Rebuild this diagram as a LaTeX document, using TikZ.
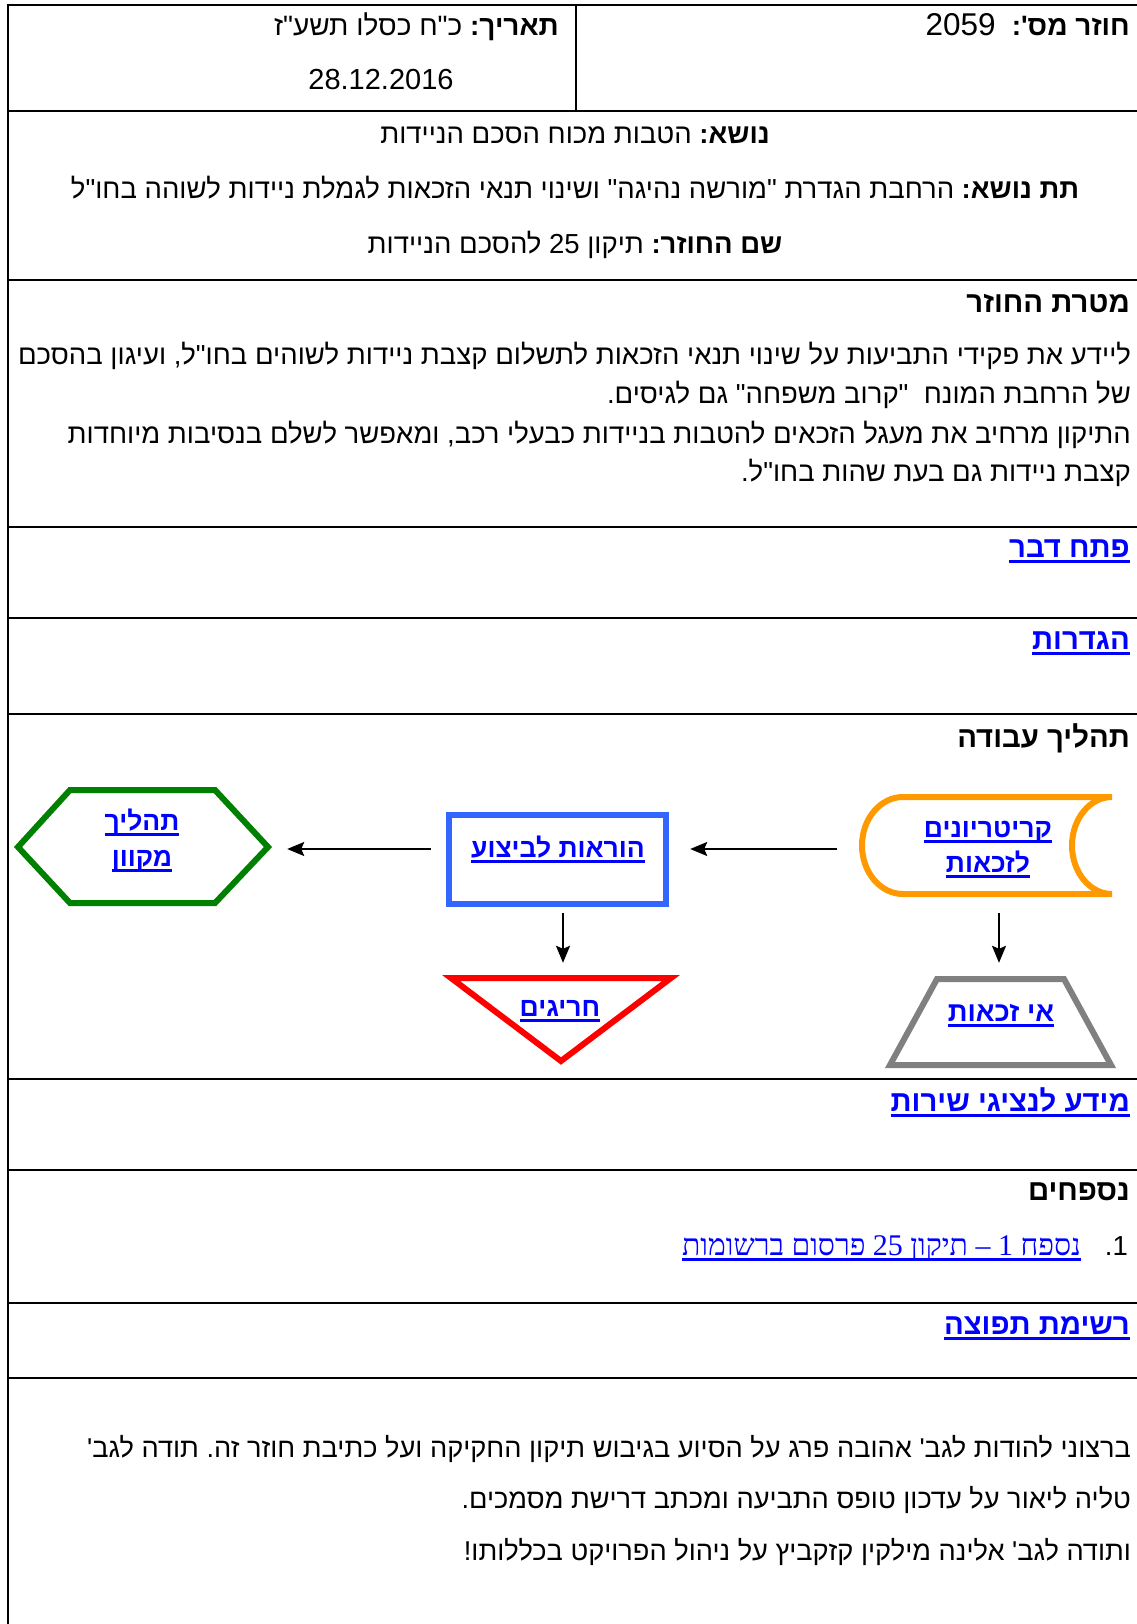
\documentclass[tikz,border=0pt]{standalone}
\usepackage{fontspec}
\setmainfont{Liberation Sans}
\newfontfamily\heb[Script=Hebrew,Ligatures=TeXOff]{Liberation Sans}
\newfontfamily\hebserif[Script=Hebrew,Ligatures=TeXOff]{Liberation Serif}
\TeXXeTstate=1
\frenchspacing
\usetikzlibrary{arrows.meta}
\definecolor{linkblue}{RGB}{0,0,255}
\definecolor{shporange}{RGB}{255,153,0}
\definecolor{shpblue}{RGB}{51,102,255}
\definecolor{shpgreen}{RGB}{0,128,0}
\definecolor{shpred}{RGB}{255,0,0}
\definecolor{shpgray}{RGB}{128,128,128}
\newcommand\RTL[1]{\beginR #1\endR}
\newcommand\LTR[1]{\beginL #1\endL}
\newcommand\ulk[1]{\setbox0\hbox{\beginR #1\endR}\rlap{\vrule height -3pt depth 6pt width \wd0}\box0}
\newcommand\bodyfont{\heb\fontsize{27.5}{33}\selectfont}
\newcommand\headfont{\heb\fontsize{28}{33}\selectfont}
\newcommand\boldhead{\heb\fontsize{29.3}{35}\selectfont\bfseries}
\newcommand\shapefont{\heb\fontsize{26.5}{32}\selectfont\bfseries}
\begin{document}
\begin{tikzpicture}[x=1pt,y=-1pt,
  hrule/.style={line width=2pt},
  thinrule/.style={line width=1.3pt},
  txt/.style={inner sep=0pt, anchor=base east, font=\bodyfont},
  ctr/.style={inner sep=0pt, anchor=base, font=\bodyfont},
  hd/.style={inner sep=0pt, anchor=base east, font=\boldhead},
  lnk/.style={inner sep=0pt, anchor=base east, text=linkblue, font=\boldhead},
  shtxt/.style={inner sep=0pt, anchor=base, text=linkblue, font=\shapefont},
  frame/.style={inner sep=0pt, draw=none},
  arr/.style={line width=2pt, -{Stealth[length=17pt,width=14pt,inset=3pt]}},
  shp/.style={line width=6pt, line join=miter}]
\useasboundingbox (0,0) rectangle (1137,1624);
\fill[white] (0,0) rectangle (1137,1624);
% table
\draw[thinrule] (8,4) -- (8,1624);
\draw[thinrule] (576,5) -- (576,111);
\foreach \yy in {5,111,280,527,618,714,1079,1170,1303,1378}
  \draw[hrule] (7,\yy) -- (1137,\yy);
% row 1
\node[txt,font=\headfont] (num) at (1130,36) {\RTL{\textbf{חוזר מס':}\hspace{16pt}{\fontsize{31.5}{36}\selectfont\LTR{2059}}}};
\node[txt,font=\headfont] (date) at (559,36) {\RTL{\textbf{תאריך:} כ"ח כסלו תשע"ז}};
\node[ctr,font=\heb\fontsize{29}{34}\selectfont] (dateg) at (381,90) {28.12.2016};
% row 2
\node[ctr] (subj) at (575,144) {\RTL{\textbf{נושא:} הטבות מכוח הסכם הניידות}};
\node[ctr] (subsubj) at (575,199) {\RTL{\textbf{תת נושא:} הרחבת הגדרת "מורשה נהיגה" ושינוי תנאי הזכאות לגמלת ניידות לשוהה בחו"ל}};
\node[ctr] (name) at (575,253) {\RTL{\textbf{שם החוזר:} תיקון \LTR{25} להסכם הניידות}};
% row 3
\node[hd] (goalh) at (1130,312) {\RTL{מטרת החוזר}};
\node[txt] (g1) at (1131,364) {\RTL{ליידע את פקידי התביעות על שינוי תנאי הזכאות לתשלום קצבת ניידות לשוהים בחו"ל, ועיגון בהסכם}};
\node[txt] (g2) at (1131,403.5) {\RTL{של הרחבת המונח \ "קרוב משפחה" גם לגיסים.}};
\node[txt] (g3) at (1131,443) {\RTL{התיקון מרחיב את מעגל הזכאים להטבות בניידות כבעלי רכב, ומאפשר לשלם בנסיבות מיוחדות}};
\node[txt] (g4) at (1131,481) {\RTL{קצבת ניידות גם בעת שהות בחו"ל.}};
% rows 4-5
\node[lnk] (intro) at (1130,557) {\ulk{פתח דבר}};
\node[lnk] (defs) at (1130,649) {\ulk{הגדרות}};
% row 6
\node[hd] (proch) at (1130,747) {\RTL{תהליך עבודה}};
\coordinate (rowy) at (0,849);
\coordinate (colA) at (563,0);
\coordinate (colB) at (999,0);
\node[frame, minimum width=250pt, minimum height=97pt] (crit) at (987,845.5) {};
\node[frame, minimum width=217pt, minimum height=89pt] (instr) at (557.5,859.5) {};
\node[frame, minimum width=250pt, minimum height=113pt] (online) at (143,846.5) {};
\node[frame, minimum width=220pt, minimum height=83pt] (exc) at (561,1019.5) {};
\node[frame, minimum width=221pt, minimum height=86pt] (noelig) at (1000.5,1022) {};
% shapes
\draw[shp, shporange] (1112,797) -- (903,797)
  .. controls (880.4,797) and (862,818.7) .. (862,845.5)
  .. controls (862,872.3) and (880.4,894) .. (903,894) -- (1112,894)
  .. controls (1089.9,894) and (1072,872.3) .. (1072,845.5)
  .. controls (1072,818.7) and (1089.9,797) .. (1112,797) -- cycle;
\draw[shp, shpblue] (449,815) rectangle (666,904);
\draw[shp, shpgreen] (18,847) -- (70,790) -- (215,790) -- (268,847) -- (215,903) -- (70,903) -- cycle;
\draw[shp, shpred] (451,978) -- (671,978) -- (561,1061) -- cycle;
\draw[shp, shpgray] (937,979) -- (1064,979) -- (1111,1065) -- (890,1065) -- cycle;
% shape texts
\node[shtxt] (critt1) at (988,837) {\ulk{קריטריונים}};
\node[shtxt] (critt2) at (988,872) {\ulk{לזכאות}};
\node[shtxt] (instrt) at (558,857) {\ulk{הוראות לביצוע}};
\node[shtxt] (onlinet1) at (142,830) {\ulk{תהליך}};
\node[shtxt] (onlinet2) at (142,866) {\ulk{מקוון}};
\node[shtxt] (exct) at (560,1016) {\ulk{חריגים}};
\node[shtxt,font=\heb\fontsize{27.5}{33}\selectfont\bfseries] (noeligt) at (1001,1021) {\ulk{אי זכאות}};
% connectors
\draw[arr, shorten <=25pt, shorten >=24pt] (crit.west |- rowy) -- (instr.east |- rowy);
\draw[arr, shorten <=18pt, shorten >=19pt] (instr.west |- rowy) -- (online.east |- rowy);
\draw[arr, shorten <=9pt, shorten >=15pt] (colA |- instr.south) -- (colA |- exc.north);
\draw[arr, shorten <=19pt, shorten >=16pt] (colB |- crit.south) -- (colB |- noelig.north);
% row 7
\node[lnk] (svc) at (1130,1111) {\ulk{מידע לנציגי שירות}};
% row 8
\node[hd] (apph) at (1130,1200) {\RTL{נספחים}};
\node[txt] (appn) at (1128,1255) {\RTL{1.}};
\node[inner sep=0pt, anchor=base east, text=linkblue, font=\hebserif\fontsize{30}{35}\selectfont] (app1) at (1081,1255) {\ulk{נספח \LTR{1} – תיקון \LTR{25} פרסום ברשומות}};
% row 9
\node[lnk] (dist) at (1130,1334) {\ulk{רשימת תפוצה}};
% row 10
\node[txt,font=\heb\fontsize{27.2}{33}\selectfont] (t1) at (1131,1457) {\RTL{ברצוני להודות לגב' אהובה פרג על הסיוע בגיבוש תיקון החקיקה ועל כתיבת חוזר זה. תודה לגב'}};
\node[txt,font=\heb\fontsize{27.2}{33}\selectfont] (t2) at (1131,1508) {\RTL{טליה ליאור על עדכון טופס התביעה ומכתב דרישת מסמכים.}};
\node[txt,font=\heb\fontsize{27.2}{33}\selectfont] (t3) at (1131,1560) {\RTL{ותודה לגב' אלינה מילקין קזקביץ על ניהול הפרויקט בכללותו!}};
\end{tikzpicture}
\end{document}
